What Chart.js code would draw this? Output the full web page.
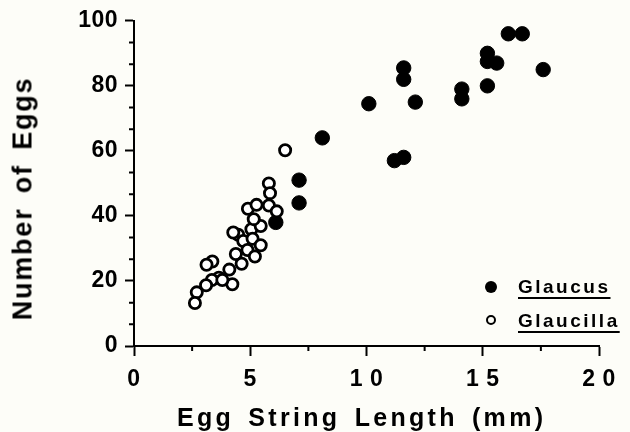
<!DOCTYPE html>
<html>
<head>
<meta charset="utf-8">
<script src="https://cdn.jsdelivr.net/npm/chart.js@4.4.1/dist/chart.umd.min.js"></script>
<style>
  body { margin: 0; background: #fdfdf8; }
  #wrap { position: relative; width: 630px; height: 432px; font-family: "Liberation Sans", Arial, sans-serif; font-weight: bold; color: #000; }
  #wrap canvas { position: absolute; left: 0; top: 0; }
  .xtitle { position: absolute; left: 177px; top: 405px; font-size: 25px; line-height: 1; letter-spacing: 3.3px; word-spacing: 4px; white-space: nowrap; }
  .ytitle { position: absolute; left: -117px; top: 185px; width: 280px; font-size: 27px; line-height: 1; letter-spacing: 1.8px; word-spacing: 5px; text-align: center; white-space: nowrap; transform: rotate(-90deg); }
  .lab { position: absolute; left: 518px; font-size: 19px; line-height: 19px; letter-spacing: 2.5px; text-decoration: underline; text-decoration-thickness: 2px; text-underline-offset: 4px; white-space: nowrap; }
  .mark { position: absolute; border-radius: 50%; box-sizing: border-box; }
</style>
</head>
<body>
<div id="wrap">
  <canvas id="eggChart" width="630" height="432"></canvas>
  <div class="ytitle">Number of Eggs</div>
  <div class="xtitle">Egg String Length (mm)</div>
  <div class="mark" style="left:485px; top:281px; width:12px; height:12px; background:#000;"></div>
  <div class="lab" style="top:277px;">Glaucus</div>
  <div class="mark" style="left:486px; top:315px; width:10px; height:10px; border:2.5px solid #000;"></div>
  <div class="lab" style="top:311px;">Glaucilla</div>
</div>
<script>
// egg string length (mm) vs number of eggs
const glaucusLength = [6.1, 7.1, 7.1, 8.1, 10.1, 11.2, 11.6, 11.6, 11.6, 12.1, 14.1, 14.1, 15.2, 15.2, 15.2, 15.6, 16.1, 16.7, 17.6];
const glaucusEggs   = [38, 51, 44, 64, 74.5, 57, 58, 85.5, 82, 75, 79, 76, 80, 90, 87.5, 87, 96, 96, 85];

const glaucillaLength = [6.5, 5.8, 5.85, 4.9, 5.27, 5.8, 6.14, 4.48, 5.05, 5.45, 4.7, 5.1, 4.88, 5.45, 5.2, 4.38, 4.63, 4.1, 4.23, 3.37, 3.12, 3.65, 3.35, 3.1, 2.7, 2.62, 4.27, 3.8, 5.15];
const glaucillaEggs   = [60.2, 50, 47, 42.2, 43.4, 43.2, 41.4, 34.2, 35.9, 36.9, 32.3, 33, 29.5, 31, 27.5, 28.3, 25.3, 23.5, 19, 26, 25, 21, 20.3, 18.7, 16.5, 13.2, 34.9, 20.3, 39];

const xTickValues = [0, 5, 10, 15, 20];
const yTickValues = [0, 20, 40, 60, 80, 100];

const tickFont = { family: "'Liberation Sans', Arial, sans-serif", size: 23, weight: 'bold' };

function toPoints(xs, ys) {
  return xs.map((x, i) => ({ x: x, y: ys[i] }));
}

// short ticks between the labelled ones
const minorTicks = {
  id: 'minorTicks',
  beforeDraw(chart) {
    chart.ctx.letterSpacing = '0.5px';
  },
  afterDraw(chart) {
    const { ctx, chartArea } = chart;
    const x = chart.scales.x;
    const y = chart.scales.y;
    ctx.save();
    ctx.letterSpacing = '0px';
    ctx.strokeStyle = '#000';
    ctx.lineWidth = 2;
    ctx.beginPath();
    for (let i = 0; i < xTickValues.length - 1; i++) {
      const px = x.getPixelForValue((xTickValues[i] + xTickValues[i + 1]) / 2);
      ctx.moveTo(px, chartArea.bottom);
      ctx.lineTo(px, chartArea.bottom + 5);
    }
    for (let i = 0; i < yTickValues.length - 1; i++) {
      for (let k = 1; k < 3; k++) {
        const py = y.getPixelForValue(yTickValues[i] + (yTickValues[i + 1] - yTickValues[i]) * k / 3);
        ctx.moveTo(chartArea.left, py);
        ctx.lineTo(chartArea.left - 5, py);
      }
    }
    ctx.stroke();
    ctx.restore();
  }
};

new Chart(document.getElementById('eggChart'), {
  type: 'scatter',
  data: {
    datasets: [
      {
        label: 'Glaucilla',
        data: toPoints(glaucillaLength, glaucillaEggs),
        pointRadius: 5.6,
        pointBorderWidth: 2.8,
        pointBackgroundColor: '#fff',
        pointBorderColor: '#000'
      },
      {
        label: 'Glaucus',
        data: toPoints(glaucusLength, glaucusEggs),
        pointRadius: 7.2,
        pointBorderWidth: 1,
        pointBackgroundColor: '#000',
        pointBorderColor: '#000'
      }
    ]
  },
  options: {
    responsive: false,
    animation: false,
    devicePixelRatio: 1,
    layout: { padding: { top: 17, right: 31, left: 0, bottom: 0 } },
    plugins: {
      legend: { display: false },
      tooltip: { enabled: false }
    },
    scales: {
      x: {
        type: 'linear',
        min: 0,
        max: 20,
        afterBuildTicks: s => { s.ticks = xTickValues.map(v => ({ value: v })); },
        afterFit: s => { s.height = 86; },
        ticks: {
          autoSkip: false,
          maxRotation: 0,
          padding: 10,
          color: '#000',
          font: tickFont,
          callback: v => String(v).split('').join(' ')
        },
        grid: { drawOnChartArea: false, tickLength: 10, tickWidth: 2, tickColor: '#000' },
        border: { color: '#000', width: 2 }
      },
      y: {
        min: 0,
        max: 100,
        afterBuildTicks: s => { s.ticks = yTickValues.map(v => ({ value: v })); },
        afterFit: s => { s.width = 134; },
        ticks: {
          autoSkip: false,
          padding: 7,
          color: '#000',
          font: tickFont
        },
        grid: { drawOnChartArea: false, tickLength: 9, tickWidth: 2, tickColor: '#000' },
        border: { color: '#000', width: 2 }
      }
    }
  },
  plugins: [minorTicks]
});
</script>
</body>
</html>
